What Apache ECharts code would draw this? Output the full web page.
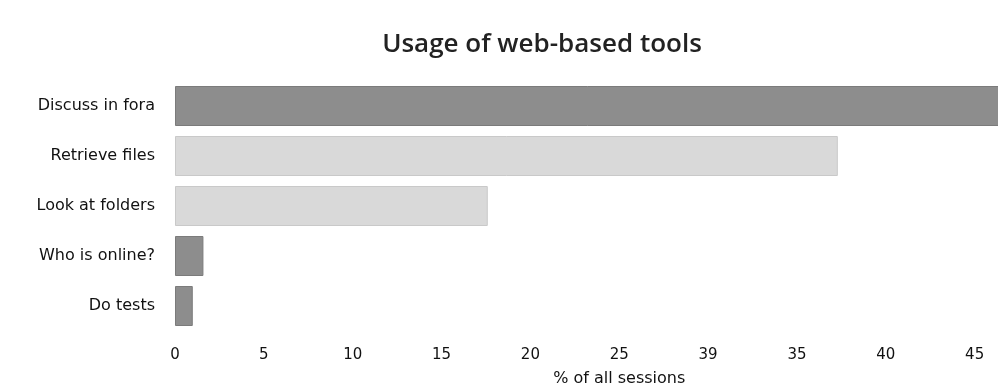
<!DOCTYPE html>
<html>
<head>
<meta charset="utf-8">
<script src="https://cdn.jsdelivr.net/npm/echarts@6/dist/echarts.min.js"></script>
<style>
  html, body { margin: 0; padding: 0; background: #fff; }
  #chart { width: 998px; height: 389px; }
</style>
</head>
<body>
<div id="chart"></div>
<script>
// 数据
const categories = ['Discuss in fora', 'Retrieve files', 'Look at folders', 'Who is online?', 'Do tests'];
const sessionShare = [47, 37.3, 17.6, 1.6, 1.0];
// tick labels as printed in the original (30 shows as "39")
const tickLabels = ['0', '5', '10', '15', '20', '25', '39', '35', '40', '45', '50'];

// 深色 / 浅色
const shade = {
    'Discuss in fora': 'dark',
    'Retrieve files': 'light',
    'Look at folders': 'light',
    'Who is online?': 'dark',
    'Do tests': 'dark',
};
const fill = { dark: '#8d8d8d', light: '#d9d9d9' };
const edge = { dark: '#7b7b7b', light: '#c9c9c9' };

const myChart = echarts.init(document.getElementById('chart'));
myChart.setOption({
    animation: false,
    title: {
        text: 'Usage of web-based tools',
        left: 537,
        top: 27,
        textAlign: 'center',
        textStyle: {
            fontFamily: 'Open Sans',
            fontSize: 26,
            fontWeight: 600,
            color: '#222',
        },
    },
    grid: {
        left: 175,
        top: 81,
        width: 888.5,
        height: 250,
        containLabel: false,
        outerBoundsMode: 'none',
    },
    xAxis: {
        type: 'value',
        min: 0,
        max: 50,
        interval: 5,
        name: '% of all sessions',
        nameLocation: 'middle',
        nameGap: 40,
        nameTextStyle: {
            fontFamily: 'DejaVu Sans',
            fontSize: 16,
            color: '#111',
        },
        axisLine: { show: false },
        axisTick: { show: false },
        splitLine: { show: false },
        axisLabel: {
            margin: 17,
            fontFamily: 'DejaVu Sans',
            fontSize: 15,
            color: '#111',
            formatter: function (val, idx) {
                return tickLabels[idx];
            },
        },
    },
    yAxis: {
        type: 'category',
        data: categories,
        inverse: true,
        axisLine: { show: false },
        axisTick: { show: false },
        axisLabel: {
            margin: 20,
            fontFamily: 'DejaVu Sans',
            fontSize: 16,
            color: '#111',
        },
    },
    series: [
        {
            type: 'bar',
            barWidth: 40,
            data: sessionShare.map(function (v, i) {
                const s = shade[categories[i]];
                return { value: v, itemStyle: { color: fill[s], borderColor: edge[s], borderWidth: 1 } };
            }),
        },
    ],
});
</script>
</body>
</html>
